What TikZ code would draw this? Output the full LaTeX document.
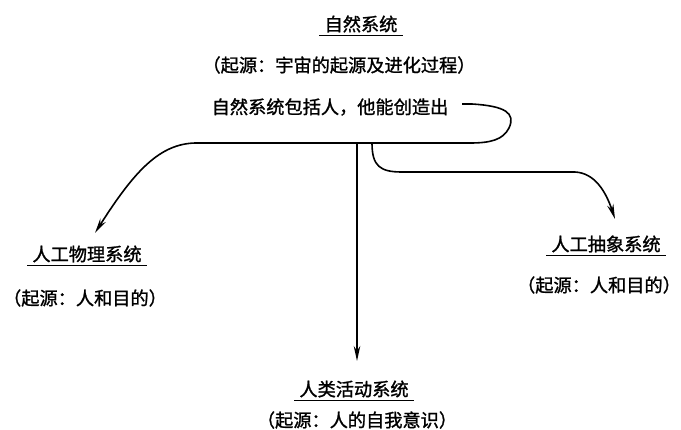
\documentclass[tikz,border=0pt]{standalone}
\usepackage{fontspec}
\newfontfamily\cjk[FakeBold=1.3]{Noto Sans CJK SC}
\usetikzlibrary{arrows.meta}
\begin{document}
\begin{tikzpicture}[x=1pt,y=-1pt,
  txt/.style={font=\cjk\fontsize{18.2}{20}\selectfont, inner sep=1pt, anchor=center},
  ttl/.style={txt},
  uline/.style={line width=1.5pt},
  conn/.style={line width=1.6pt},
  arr/.style={conn, -{Stealth[length=15pt,width=6.5pt]}}]
\useasboundingbox (0,0) rectangle (681,429);
% titles
\node[ttl] (nat) at (361,24) {自然系统};
\node[txt] (natsub) at (339,65) {（起源：宇宙的起源及进化过程）};
\node[txt] (src) at (330,107) {自然系统包括人，他能创造出};
\node[ttl] (phys) at (87,254) {人工物理系统};
\node[txt] (physsub) at (85,298) {（起源：人和目的）};
\node[ttl] (abs) at (606,244) {人工抽象系统};
\node[txt] (abssub) at (599,285) {（起源：人和目的）};
\node[ttl] (hum) at (354,389) {人类活动系统};
\node[txt] (humsub) at (357,420) {（起源：人的自我意识）};
% underlines
\foreach \n in {nat,phys,abs,hum}{
  \draw[uline] ([xshift=-4pt,yshift=-2pt]\n.south west) -- ([xshift=4pt,yshift=-2pt]\n.south east);
}
% coordinates
\coordinate (s0) at (462,104);
\coordinate (jl) at (357,143);
\coordinate (jr) at (372,143);
\coordinate (tphys) at (95,233);
\coordinate (thum) at (357,361);
\coordinate (tabs) at (615,219);
% connectors
\draw[arr] (s0) -- (472,104) .. controls (505,106) and (516,113) .. (509,128)
  .. controls (503,140) and (490,143) .. (470,143) -- (195,143)
  .. controls (160,144) and (135,170) .. (tphys);
\draw[arr] (jl) -- (thum);
\draw[arr] (jr) .. controls (372,166) and (380,172) .. (402,172) -- (575,172)
  .. controls (595,173) and (606,192) .. (tabs);
\end{tikzpicture}
\end{document}
